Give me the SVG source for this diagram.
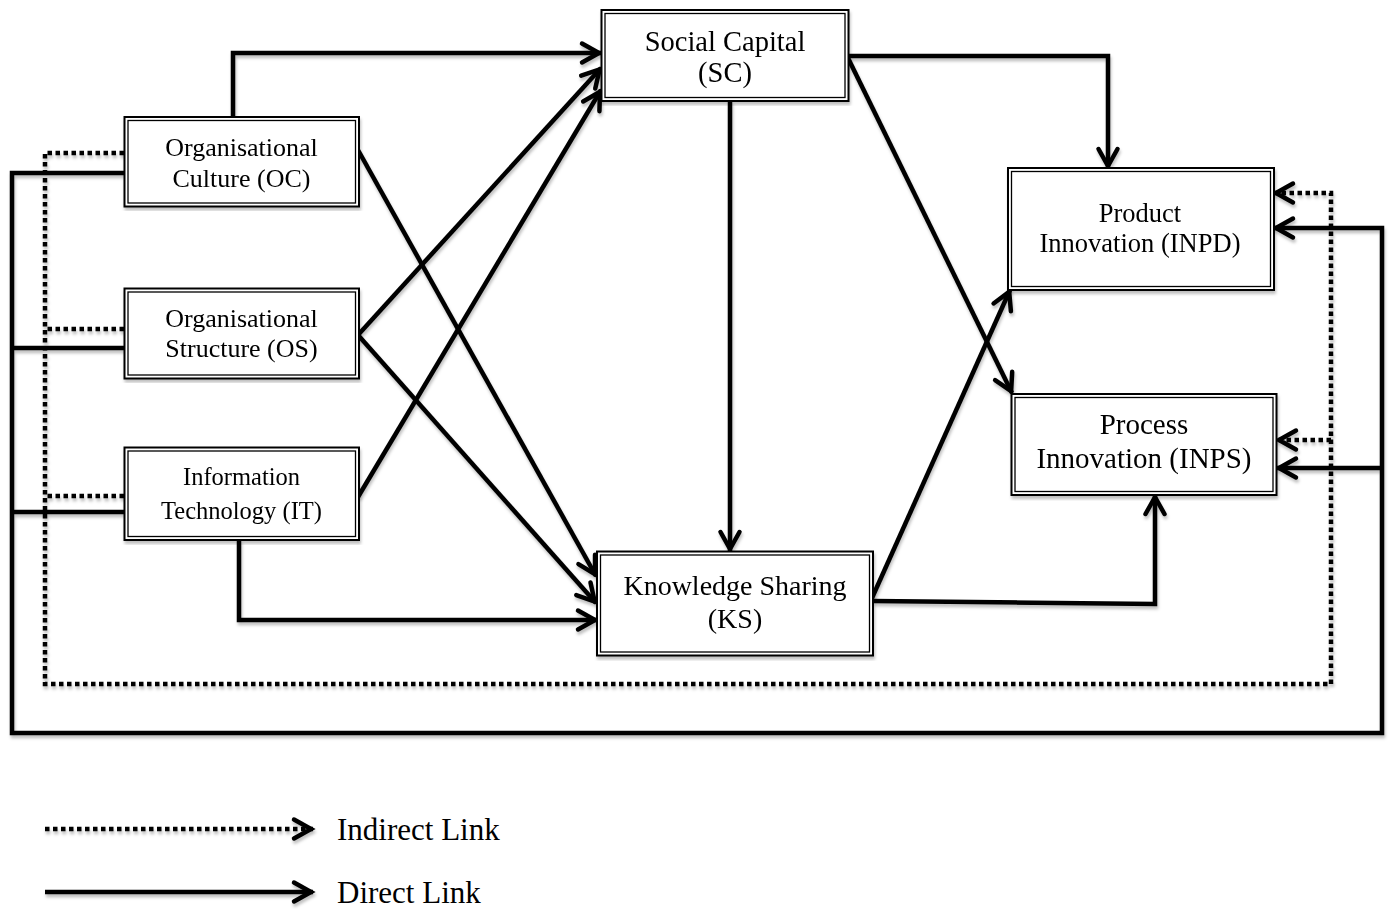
<svg xmlns="http://www.w3.org/2000/svg" width="1392" height="909" viewBox="0 0 1392 909">
<style>
.s{fill:none;stroke:#000;stroke-width:4.5;stroke-linejoin:miter}
.d{fill:none;stroke:#000;stroke-width:4.5;stroke-dasharray:4.5 3.5}
.o{fill:#fff;stroke:#000;stroke-width:2}
.i{fill:none;stroke:#000;stroke-width:1.3}
.t{font-family:"Liberation Serif","Times New Roman",serif;fill:#000;text-anchor:middle}
.lg{font-family:"Liberation Serif","Times New Roman",serif;fill:#000;font-size:31px}
</style>
<defs>
<marker id="a" markerUnits="userSpaceOnUse" markerWidth="40" markerHeight="40" viewBox="-25 -20 40 40" refX="2" refY="0" orient="auto">
<path d="M-17,-9.5 L0,0 L-17,9.5" fill="none" stroke="#000" stroke-width="4.5" stroke-dasharray="none" stroke-linecap="round"/>
</marker>
<filter id="sh" x="-5%" y="-5%" width="110%" height="110%">
<feDropShadow dx="1" dy="3" stdDeviation="1.5" flood-color="#000" flood-opacity="0.25"/>
</filter>
</defs>
<rect width="1392" height="909" fill="#fff"/>
<g id="connectors" filter="url(#sh)">
<polyline class="s" points="233,117 233,53 601,53" marker-end="url(#a)"/>
<line class="s" x1="358" y1="150" x2="596" y2="576" marker-end="url(#a)"/>
<line class="s" x1="358" y1="335" x2="596" y2="603" marker-end="url(#a)"/>
<line class="s" x1="358" y1="335" x2="601" y2="68" marker-end="url(#a)"/>
<line class="s" x1="358" y1="497" x2="601" y2="90" marker-end="url(#a)"/>
<polyline class="s" points="239,540 239,620 597,620" marker-end="url(#a)"/>
<line class="s" x1="730" y1="101" x2="730" y2="551" marker-end="url(#a)"/>
<polyline class="s" points="848,56 1108,56 1108,168" marker-end="url(#a)"/>
<line class="s" x1="848" y1="58" x2="1012" y2="393" marker-end="url(#a)"/>
<line class="s" x1="872" y1="598" x2="1010" y2="290" marker-end="url(#a)"/>
<polyline class="s" points="873,601 1155,604 1155,495" marker-end="url(#a)"/>
<path class="s" d="M124,173 H12 V733 H1382 V228 H1274" marker-end="url(#a)"/>
<path class="s" d="M124,348 H12 M124,512 H12"/>
<path class="s" d="M1382,468 H1277" marker-end="url(#a)"/>
<path class="d" d="M124,153 H45 V684 H1331 V193 H1274" marker-end="url(#a)"/>
<path class="d" d="M124,329 H45 M124,496 H45"/>
<path class="d" d="M1331,440 H1277" marker-end="url(#a)"/>
<path class="d" d="M45,829 H313" marker-end="url(#a)"/>
<path class="s" d="M45,892 H313" marker-end="url(#a)"/>
</g>
<g id="OC" filter="url(#sh)">
<rect class="o" x="124.5" y="117" width="234.5" height="89.5"/>
<rect class="i" x="128" y="120.5" width="227.5" height="82.5"/>
<text class="t" x="241.5" y="156" font-size="26">Organisational</text>
<text class="t" x="241.5" y="187" font-size="26">Culture (OC)</text>
</g>
<g id="OS" filter="url(#sh)">
<rect class="o" x="124.5" y="288.5" width="234.5" height="90"/>
<rect class="i" x="128" y="292" width="227.5" height="83"/>
<text class="t" x="241.5" y="327" font-size="26">Organisational</text>
<text class="t" x="241.5" y="357" font-size="26">Structure (OS)</text>
</g>
<g id="IT" filter="url(#sh)">
<rect class="o" x="124.5" y="447.5" width="234.5" height="92.5"/>
<rect class="i" x="128" y="451" width="227.5" height="85.5"/>
<text class="t" x="241.5" y="485" font-size="24.5">Information</text>
<text class="t" x="241.5" y="519" font-size="24.5">Technology (IT)</text>
</g>
<g id="SC" filter="url(#sh)">
<rect class="o" x="601.5" y="10" width="247" height="91"/>
<rect class="i" x="605" y="13.5" width="240" height="84"/>
<text class="t" x="725" y="51" font-size="28.5">Social Capital</text>
<text class="t" x="725" y="82" font-size="28.5">(SC)</text>
</g>
<g id="KS" filter="url(#sh)">
<rect class="o" x="597" y="551.5" width="276" height="104"/>
<rect class="i" x="600.5" y="555" width="269" height="97"/>
<text class="t" x="735" y="595" font-size="28">Knowledge Sharing</text>
<text class="t" x="735" y="628" font-size="28">(KS)</text>
</g>
<g id="INPD" filter="url(#sh)">
<rect class="o" x="1008" y="168" width="266" height="122"/>
<rect class="i" x="1011.5" y="171.5" width="259" height="115"/>
<text class="t" x="1140" y="221.5" font-size="26.5">Product</text>
<text class="t" x="1140" y="251.5" font-size="26.5">Innovation (INPD)</text>
</g>
<g id="INPS" filter="url(#sh)">
<rect class="o" x="1011.5" y="394" width="265" height="101"/>
<rect class="i" x="1015" y="397.5" width="258" height="94"/>
<text class="t" x="1144" y="434" font-size="29">Process</text>
<text class="t" x="1144" y="468" font-size="29">Innovation (INPS)</text>
</g>
<g id="legend">
<text class="lg" x="337" y="840">Indirect Link</text>
<text class="lg" x="337" y="903">Direct Link</text>
</g>
</svg>
